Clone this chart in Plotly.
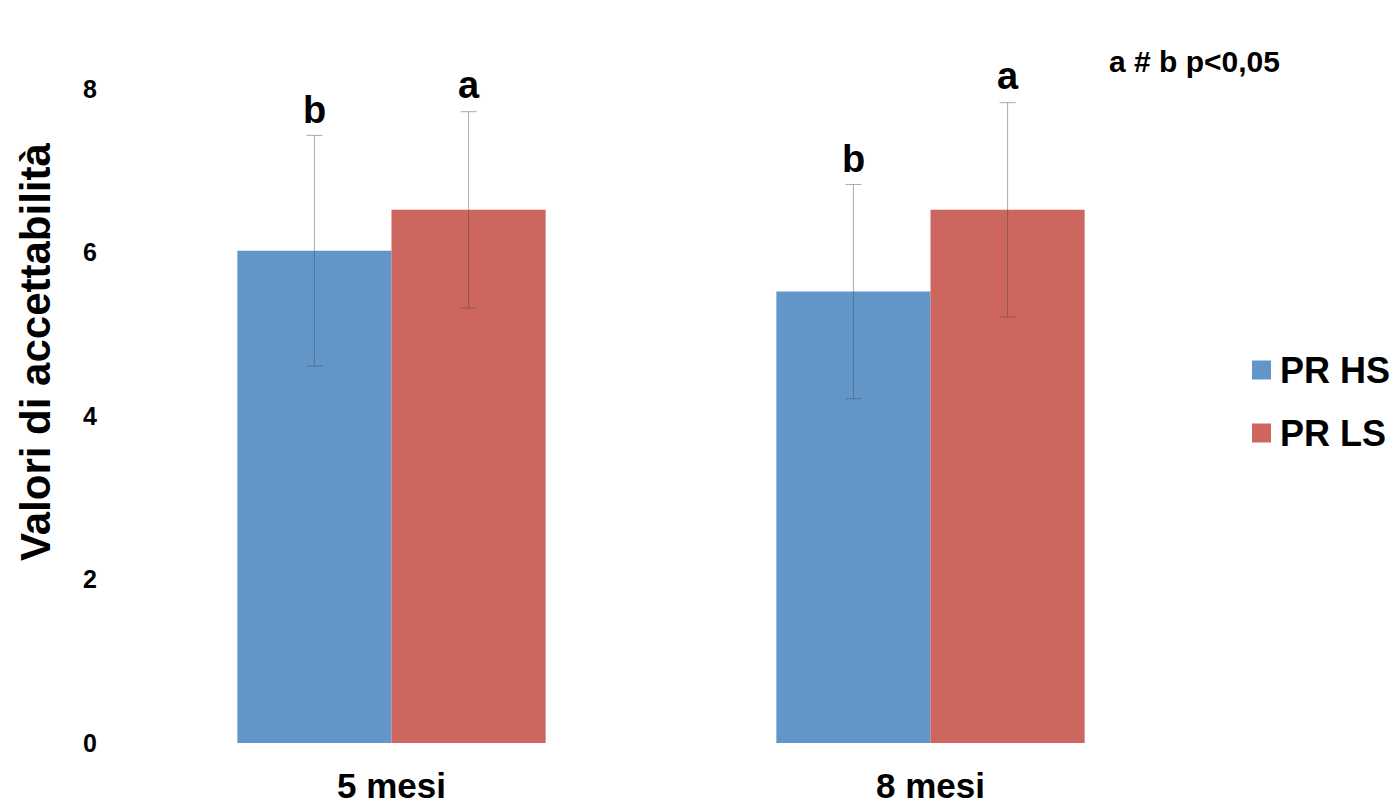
import plotly.graph_objects as go

categories = ["5 mesi", "8 mesi"]
series_names = ["PR HS", "PR LS"]
hs_values = [6.02, 5.52]
ls_values = [6.52, 6.52]
hs_err = [1.41, 1.31]
ls_err = [1.2, 1.31]
hs_letters = ["b", "b"]
ls_letters = ["a", "a"]
y_ticks = [0, 2, 4, 6, 8]
note_text = "a # b p<0,05"
y_title = "Valori di accettabilità"

FONT = "Liberation Sans, Arial, sans-serif"
blue = "#6296C8"
red = "#CD665F"
colors = [blue, red]
err_col = "rgba(70,70,70,0.45)"

# plot area in pixels (for paper-coordinate conversion)
PX_L, PX_R, PX_T, PX_B = 122, 1200, 7, 743
def px(x):
    return (x - PX_L) / (PX_R - PX_L)
def py(y):
    return (PX_B - y) / (PX_B - PX_T)

fig = go.Figure()
fig.add_trace(go.Bar(
    x=categories, y=hs_values, name=series_names[0], marker_color=blue,
    marker_line_width=0, showlegend=False,
    error_y=dict(type="data", array=hs_err, color=err_col, thickness=1, width=8),
))
fig.add_trace(go.Bar(
    x=categories, y=ls_values, name=series_names[1], marker_color=red,
    marker_line_width=0, showlegend=False,
    error_y=dict(type="data", array=ls_err, color=err_col, thickness=1, width=8),
))

# significance letters
for i, c in enumerate(categories):
    fig.add_annotation(x=c, y=hs_values[i] + hs_err[i], xshift=-77, yshift=2,
                       text=hs_letters[i], showarrow=False, yanchor="bottom",
                       font=dict(family=FONT, size=38, color="black", weight="bold"))
    fig.add_annotation(x=c, y=ls_values[i] + ls_err[i], xshift=77, yshift=4,
                       text=ls_letters[i], showarrow=False, yanchor="bottom",
                       font=dict(family=FONT, size=38, color="black", weight="bold"))

fig.add_annotation(xref="paper", yref="paper", x=px(1194), y=py(62),
                   text=note_text, showarrow=False, xanchor="center", yanchor="middle",
                   font=dict(family=FONT, size=30, color="black", weight="bold"))

# y axis title
fig.add_annotation(xref="paper", yref="paper", x=px(35), y=py(352),
                   text=y_title, showarrow=False, textangle=-90,
                   xanchor="center", yanchor="middle",
                   font=dict(family=FONT, size=42, color="black", weight="bold"))

# legend (squares + labels)
legend_rows = [370, 433]
for name, col, yc in zip(series_names, colors, legend_rows):
    fig.add_shape(type="rect", xref="paper", yref="paper",
                  x0=px(1252), x1=px(1271), y0=py(yc + 9.5), y1=py(yc - 9.5),
                  fillcolor=col, line_width=0)
    fig.add_annotation(xref="paper", yref="paper", x=px(1278), y=py(yc),
                       text=name, showarrow=False, xanchor="left", yanchor="middle",
                       font=dict(family=FONT, size=36, color="black", weight="bold"))

fig.update_layout(
    width=1396, height=808,
    margin=dict(l=PX_L, r=1396 - PX_R, t=PX_T, b=808 - PX_B, autoexpand=False),
    plot_bgcolor="white", paper_bgcolor="white",
    barmode="group", bargap=0.428, bargroupgap=0,
    showlegend=False,
    font=dict(family=FONT, color="black"),
)
fig.update_xaxes(showline=False, showgrid=False, zeroline=False, ticks="",
                 automargin=False,
                 tickfont=dict(family=FONT, size=35, color="black", weight="bold"),
                 ticklabelstandoff=19)
fig.update_yaxes(range=[0, 9], tickvals=y_ticks, showline=False, showgrid=False,
                 zeroline=False, ticks="", automargin=False,
                 tickfont=dict(family=FONT, size=25, color="black", weight="bold"),
                 ticklabelstandoff=24)

fig.write_html("out.html")
